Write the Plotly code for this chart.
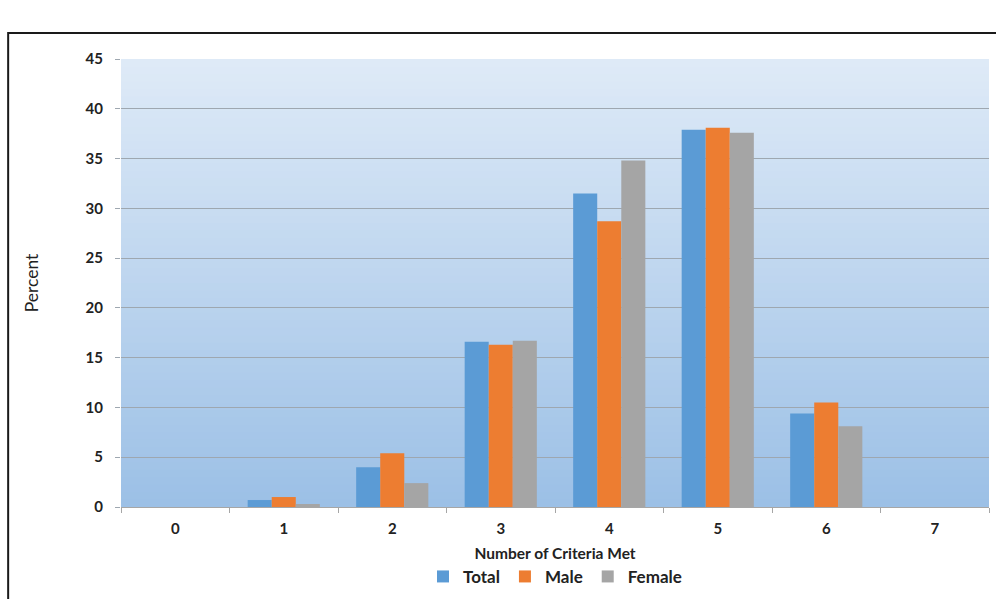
import plotly.graph_objects as go

# Share of respondents by number of criteria met
categories = ["0", "1", "2", "3", "4", "5", "6", "7"]
total = [0, 0.7, 4.0, 16.6, 31.5, 37.9, 9.4, 0]
male = [0, 1.0, 5.4, 16.3, 28.7, 38.1, 10.5, 0]
female = [0, 0.3, 2.4, 16.7, 34.8, 37.6, 8.1, 0]

series = [
    ("Total", total, "#5b9bd5"),
    ("Male", male, "#ed7d31"),
    ("Female", female, "#a5a5a5"),
]

fig = go.Figure()
for name, vals, color in series:
    fig.add_trace(go.Bar(x=categories, y=vals, name=name,
                         marker=dict(color=color, line=dict(width=0))))

# Vertical gradient fill for the plotting area (light at top, deeper blue at bottom)
top_rgb = (222, 234, 247)
bot_rgb = (156, 192, 230)
n = 60
shapes = []
for i in range(n):
    t = i / (n - 1)
    c = tuple(round(top_rgb[k] + (bot_rgb[k] - top_rgb[k]) * t) for k in range(3))
    y_top = 1 - i / n
    y_bot = max(0, 1 - (i + 1) / n - 0.006)
    shapes.append(dict(type="rect", xref="x domain", yref="y domain",
                       x0=0, x1=1, y0=y_bot, y1=y_top,
                       fillcolor="rgb(%d,%d,%d)" % c, line=dict(width=0),
                       layer="below"))

# Outer frame around the chart
shapes.append(dict(type="rect", xref="paper", yref="paper",
                   x0=-0.130, x1=1.012, y0=-0.22, y1=1.058,
                   line=dict(color="#1a1a1a", width=2), fillcolor="rgba(0,0,0,0)"))

font_family = "Lato, Open Sans, Liberation Sans, sans-serif"

fig.update_layout(
    width=996, height=599,
    margin=dict(l=121, r=7, t=59, b=92, autoexpand=False),
    paper_bgcolor="white",
    plot_bgcolor="rgba(0,0,0,0)",
    barmode="group",
    bargap=0.335,
    bargroupgap=0,
    shapes=shapes,
    font=dict(family=font_family, color="#222222"),
    showlegend=True,
    legend=dict(orientation="h", x=0.5, xanchor="center", y=-0.156, yanchor="middle",
                font=dict(size=17, family=font_family, weight="bold", color="#222222"),
                itemwidth=30, traceorder="normal", bgcolor="rgba(0,0,0,0)"),
    xaxis=dict(
        type="category",
        automargin=False,
        tickson="boundaries",
        ticks="outside", ticklen=5, tickcolor="#a6a6a6",
        showline=True, linecolor="#a6a6a6", linewidth=1,
        showgrid=False,
        ticklabelstandoff=8,
        tickfont=dict(size=15, weight="bold", color="#222222"),
        title=dict(text="Number of Criteria Met", standoff=12,
                   font=dict(size=15.5, weight="bold", color="#222222")),
    ),
    yaxis=dict(
        range=[0, 45], dtick=5,
        automargin=False,
        showgrid=True, gridcolor="#9ea7b0", gridwidth=1,
        zeroline=False,
        ticks="outside", ticklen=5, tickcolor="#9ea7b0",
        showline=False,
        ticklabelstandoff=9,
        tickfont=dict(size=15, weight="bold", color="#222222"),
        title=dict(text="Percent", standoff=42,
                   font=dict(size=17.5, color="#222222")),
    ),
)

fig.write_html("out.html")
